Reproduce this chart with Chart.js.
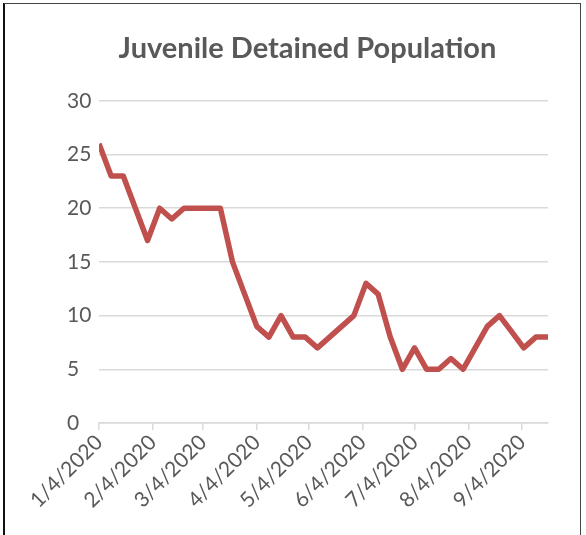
<!DOCTYPE html>
<html>
<head>
<meta charset="utf-8">
<script src="https://cdn.jsdelivr.net/npm/chart.js@4"></script>
<style>
  html, body { margin: 0; padding: 0; background: #fff; }
  #caixa { position: relative; width: 586px; height: 535px; }
  #moldura {
    position: absolute; left: 3px; top: 3px; width: 575px; height: 600px;
    border: 1px solid #444; border-left: 2px solid #111; pointer-events: none;
  }
</style>
</head>
<body>
<div id="caixa">
  <canvas id="grafico" width="586" height="535"></canvas>
  <div id="moldura"></div>
</div>
<script>
  // semanas (datas das medições)
  const semanas = [
    '1/4/2020', '1/11/2020', '1/18/2020', '1/25/2020', '2/1/2020', '2/8/2020', '2/15/2020', '2/22/2020',
    '2/29/2020', '3/7/2020', '3/14/2020', '3/21/2020', '3/28/2020', '4/4/2020', '4/11/2020', '4/18/2020',
    '4/25/2020', '5/2/2020', '5/9/2020', '5/16/2020', '5/23/2020', '5/30/2020', '6/6/2020', '6/13/2020',
    '6/20/2020', '6/27/2020', '7/4/2020', '7/11/2020', '7/18/2020', '7/25/2020', '8/1/2020', '8/8/2020',
    '8/15/2020', '8/22/2020', '8/29/2020', '9/5/2020', '9/12/2020', '9/19/2020'
  ];
  const populacao = [
    26, 23, 23, 20, 17, 20, 19, 20,
    20, 20, 20, 15, 12, 9, 8, 10,
    8, 8, 7, 8, 9, 10, 13, 12,
    8, 5, 7, 5, 5, 6, 5, 7,
    9, 10, 8.5, 7, 8, 8
  ];
  const rotulosX = ['1/4/2020', '2/4/2020', '3/4/2020', '4/4/2020', '5/4/2020', '6/4/2020', '7/4/2020', '8/4/2020', '9/4/2020'];
  const rotulosY = [0, 5, 10, 15, 20, 25, 30];

  function paraData(txt) {
    const [m, d, a] = txt.split('/').map(Number);
    return Date.UTC(a, m - 1, d);
  }
  const inicio = paraData(semanas[0]);
  function dias(txt) {
    return Math.round((paraData(txt) - inicio) / 86400000);
  }

  const pontos = semanas.map((s, i) => ({ x: dias(s), y: populacao[i] }));
  const ticksX = rotulosX.map(dias);

  const cinza = '#595959';
  const fonte = 'Lato, "Open Sans", sans-serif';

  new Chart(document.getElementById('grafico'), {
    type: 'line',
    data: {
      datasets: [{
        data: pontos,
        borderColor: '#C0504D',
        borderWidth: 5.5,
        pointRadius: 0,
        tension: 0,
        borderJoinStyle: 'round',
        borderCapStyle: 'butt'
      }]
    },
    options: {
      responsive: false,
      animation: false,
      layout: { padding: { left: 67, right: 38, top: 0, bottom: 0 } },
      plugins: {
        legend: { display: false },
        tooltip: { enabled: false },
        title: {
          display: true,
          text: 'Juvenile Detained Population',
          color: cinza,
          font: { family: fonte, size: 29, weight: 'bold', lineHeight: 1.2 },
          padding: { top: 31, bottom: 35 }
        }
      },
      scales: {
        x: {
          type: 'linear',
          min: 0,
          max: pontos[pontos.length - 1].x,
          afterBuildTicks: (escala) => {
            escala.ticks = ticksX.map(v => ({ value: v }));
          },
          afterFit: (escala) => { escala.height = 112; },
          grid: {
            drawOnChartArea: false,
            color: '#D9D9D9',
            lineWidth: 1.5,
            tickLength: 7
          },
          border: { display: true, color: '#D9D9D9', width: 1.5 },
          ticks: {
            autoSkip: false,
            minRotation: 45,
            maxRotation: 45,
            padding: 0,
            color: cinza,
            font: { family: fonte, size: 21 },
            callback: (v) => rotulosX[ticksX.indexOf(v)] || ''
          }
        },
        y: {
          min: 0,
          max: 30,
          afterBuildTicks: (escala) => {
            escala.ticks = rotulosY.map(v => ({ value: v }));
          },
          afterFit: (escala) => { escala.width = 32; },
          grid: { color: '#D9D9D9', lineWidth: 1.5, drawTicks: false },
          border: { display: false },
          ticks: {
            crossAlign: 'far',
            color: cinza,
            font: { family: fonte, size: 21 }
          }
        }
      }
    }
  });
</script>
</body>
</html>
